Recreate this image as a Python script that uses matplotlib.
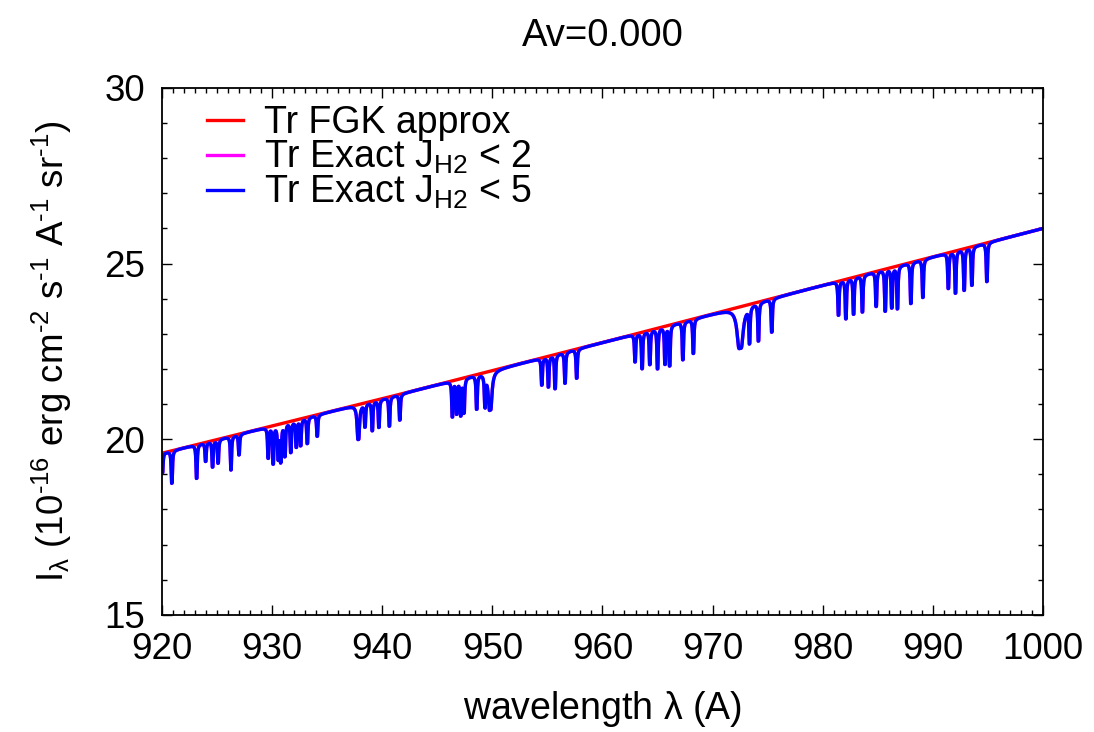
import numpy as np
import matplotlib
matplotlib.use("Agg")
import matplotlib.pyplot as plt
from matplotlib.ticker import MultipleLocator

plt.rcParams['font.family'] = ['Liberation Sans', 'DejaVu Sans']
plt.rcParams['mathtext.fontset'] = 'custom'
plt.rcParams['mathtext.rm'] = 'Liberation Sans'
plt.rcParams['mathtext.it'] = 'Liberation Sans'
plt.rcParams['mathtext.sf'] = 'Liberation Sans'

# continuum
cont_wl = [920, 940, 960, 980, 1000]
cont_val = [19.6, 21.15, 22.75, 24.38, 26.0]

# absorption lines: centre (A), minimum value reached
line_wl = [920.05, 920.9, 923.15, 923.97, 924.6, 925.1, 926.27, 927.0,
           929.65, 930.1, 930.56, 930.8, 931.17, 931.7, 932.2, 932.6, 933.2, 934.1,
           937.83, 938.44, 939.1, 939.7, 940.65, 941.6,
           946.37, 946.76, 947.13, 947.43, 948.58, 949.33, 949.8,
           954.49, 955.09, 955.7, 956.6, 957.66,
           962.96, 963.6, 964.3, 965.0, 965.68, 966.1, 967.3, 968.25,
           972.5, 973.35, 974.16, 975.37,
           981.43, 982.1, 982.8, 983.6, 984.85, 985.67, 986.27, 986.78, 988.0, 989.09,
           991.4, 992.05, 992.84, 993.54, 994.9]
line_min = [19.05, 18.75, 18.89, 19.38, 19.22, 19.33, 19.13, 19.56,
            19.48, 19.33, 19.48, 19.43, 19.55, 19.65, 19.8, 19.84, 19.89, 20.09,
            20.0, 20.38, 20.26, 20.35, 20.38, 20.55,
            20.66, 20.76, 20.72, 20.79, 20.88, 21.02, 20.84,
            21.55, 21.5, 21.45, 21.6, 21.74,
            22.21, 22.02, 22.14, 22.02, 22.16, 22.11, 22.27, 22.45,
            22.59, 22.83, 22.83, 23.06,
            23.54, 23.44, 23.57, 23.63, 23.79, 23.66, 23.76, 23.73, 23.87, 24.04,
            24.3, 24.17, 24.25, 24.39, 24.49]
# broad lines (H Lyman series) get their own width; the rest are narrow
broad_wl = [926.27, 930.56, 937.83, 949.8, 972.5]
broad_w = [0.010, 0.012, 0.02, 0.03, 0.05]

wl = np.linspace(920, 1000, 40001)
cont = np.interp(wl, cont_wl, cont_val)

spec = cont.copy()
for lc, lm in zip(line_wl, line_min):
    if lc in broad_wl:
        g, T = broad_w[broad_wl.index(lc)], 30.0
    else:
        g, T = 0.004, 200.0
    frac = 1 - lm / np.interp(lc, cont_wl, cont_val)
    x = (wl - lc) / g
    s = (1 - np.exp(-T / (1 + x**2))) / (1 - np.exp(-T))
    spec = spec * (1 - frac * s)

fig = plt.figure(figsize=(10.94, 7.32), dpi=100)
ax = fig.add_axes([0.148, 0.16, 0.8054, 0.72])

ax.plot(wl, cont, color='#ff0000', lw=2.4, label='Tr FGK approx')
ax.plot(wl, spec, color='#ff00ff', lw=2.4, label='Tr Exact J$_{\\rm H2}$ < 2')
ax.plot(wl, spec, color='#0000ff', lw=2.4, label='Tr Exact J$_{\\rm H2}$ < 5')

ax.set_xlim(920, 1000)
ax.set_ylim(15, 30)
ax.xaxis.set_major_locator(MultipleLocator(10))
ax.xaxis.set_minor_locator(MultipleLocator(1))
ax.yaxis.set_major_locator(MultipleLocator(5))
ax.yaxis.set_minor_locator(MultipleLocator(1))
ax.tick_params(which='both', direction='in', top=True, right=True, width=1.0, labelsize=26.5)
ax.tick_params(which='major', length=7, pad=12)
ax.tick_params(which='minor', length=3.5)
for sp in ax.spines.values():
    sp.set_linewidth(1.3)

ax.set_title('Av=0.000', fontsize=27.5, pad=30)
ax.set_xlabel('wavelength $\\lambda$ (A)', fontsize=27, labelpad=16)
ax.set_ylabel('I$_\\lambda$ (10$^{\u201016}$ erg cm$^{\u20102}$ s$^{\u20101}$ A$^{\u20101}$ sr$^{\u20101}$)',
              fontsize=26.5, labelpad=22)

ax.legend(loc='upper left', frameon=False, fontsize=27, handlelength=0.95,
          handletextpad=0.55, labelspacing=-0.06, borderaxespad=0.2,
          bbox_to_anchor=(0.026, 1.01))

fig.savefig('out.png', dpi=100)
